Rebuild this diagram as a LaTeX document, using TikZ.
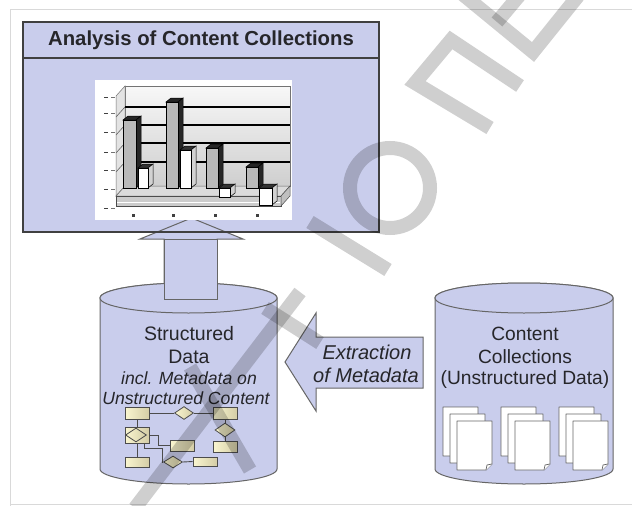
\documentclass[tikz,border=0pt]{standalone}
\usepackage{fontspec}
\setmainfont{Liberation Sans}
\usetikzlibrary{calc,shapes.geometric}

\definecolor{lav}{RGB}{201,205,236}
\definecolor{edge}{RGB}{64,64,64}
\definecolor{ink}{RGB}{38,38,42}
\definecolor{cream}{RGB}{250,246,208}
\definecolor{khaki}{RGB}{212,205,166}

\tikzset{
  frameline/.style={draw=black!15, line width=0.8pt},
  panel/.style={fill=lav, draw=edge, line width=1.3pt},
  tank/.style={fill=lav, draw=black!60, line width=1pt},
  blockarrow/.style={fill=lav, draw=black!60, line width=1pt, line join=miter},
  label/.style={text=ink, align=center, inner sep=0pt},
  erbox/.style={shape=rectangle, draw=black!70, line width=0.8pt,
    left color=cream, middle color=cream, right color=khaki,
    minimum width=24pt, minimum height=12pt, inner sep=0pt},
  erdia/.style={shape=diamond, draw=black!70, line width=0.8pt,
    left color=cream, middle color=cream, right color=khaki,
    minimum width=19pt, minimum height=13pt, inner sep=0pt},
  erlink/.style={draw=black!70, line width=0.9pt},
  docsheet/.style={fill=white, draw=black!60, line width=0.7pt, line join=round},
  wmark/.style={draw=black, draw opacity=0.19, line width=14pt, line cap=butt, line join=miter},
}

% one chart bar: x0, x1, top y, base y, front style, top style, side style
\newcommand\chartbar[7]{%
  \filldraw[#6, draw=black, line width=0.5pt] (#1,#3) -- (#1+5,#3-4) -- (#2+5,#3-4) -- (#2,#3) -- cycle;
  \filldraw[#7, draw=black, line width=0.5pt] (#2,#3) -- (#2+5,#3-4) -- (#2+5,#4-4) -- (#2,#4) -- cycle;
  \filldraw[#5, draw=black, line width=0.5pt] (#1,#3) rectangle (#2,#4);
}

% a stack of three sheets with a folded corner
\newcommand\sheetstack[2]{%
  \foreach \k in {0,1,2} {
    \draw[docsheet] (#1+7*\k,#2+7*\k) -- ++(35,0) -- ++(0,43) -- ++(-6,6) -- ++(-29,0) -- cycle;
    \draw[docsheet] (#1+7*\k+35,#2+7*\k+43) -- ++(-5,1) -- ++(-1,5);
  }
}

\begin{document}
\begin{tikzpicture}[x=1pt,y=-1pt]
\useasboundingbox (0,0) rectangle (632,506);
\fill[white] (0,0) rectangle (632,506);

% page frame
\draw[frameline] (10,506) -- (10,9) -- (632,9);
\draw[frameline] (10,504.5) -- (632,504.5);

% ---------- analysis panel ----------
\fill[lav] (23,22) rectangle (379,232);

% upward block arrow from the structured store to the panel
\draw[blockarrow] (164,296) -- (164,239) -- (140,239) -- (191.5,218) -- (243,239) -- (217,239) -- (217,296) -- cycle;

\draw[panel, fill=none] (23,22) rectangle (379,232);
\draw[edge, line width=1.2pt] (23,58) -- (379,58);
\node[label, font=\bfseries\fontsize{20.3}{24}\selectfont] (title) at (201,40) {Analysis of Content Collections};

% ---------- bar chart ----------
\fill[white] (95,80) rectangle (292,220);
\shade[top color=gray!6, bottom color=gray!38] (125,86) rectangle (290,186);
\draw[black!55, line width=0.5pt] (125,86) rectangle (290,186);
\filldraw[fill=gray!22, draw=black!55, line width=0.5pt] (116,96) -- (125,86) -- (125,186) -- (116,196) -- cycle;
\foreach \g in {107,125,143,162} {
  \draw[black, line width=1.1pt] (125,\g) -- (290,\g);
  \draw[black!60, line width=0.6pt] (116,\g+10) -- (125,\g);
}
% floor slab
\filldraw[fill=gray!28, draw=black!60, line width=0.5pt] (116,196) -- (125,186) -- (290,186) -- (281,196) -- cycle;
\filldraw[fill=gray!40, draw=black!70, line width=0.6pt] (116,196) rectangle (281,206);
\filldraw[fill=gray!50, draw=black!70, line width=0.5pt] (281,196) -- (290,186) -- (290,196) -- (281,206) -- cycle;
\draw[white, line width=0.6pt] (117,202) -- (280,202);

% bars
\chartbar{123}{136}{120}{188}{gray!55}{black!85}{black!85}
\chartbar{138}{148}{168}{188}{white}{black!80}{gray!35}
\chartbar{166}{178}{102}{188}{gray!55}{black!85}{black!85}
\chartbar{180}{191}{150}{188}{white}{black!80}{gray!35}
\chartbar{206}{218}{148}{188}{gray!55}{black!85}{black!85}
\chartbar{219}{230}{188}{197}{white}{black!80}{gray!35}
\chartbar{246}{258}{167}{188}{gray!55}{black!85}{black!85}
\chartbar{259}{272}{188}{205}{white}{black!80}{gray!35}

% axis ticks and tiny labels
\foreach \t in {97,113,132,152,170,189,208} {
  \draw[black!75, line width=0.9pt] (104,\t) -- (108,\t);
  \draw[black!55, line width=0.6pt] (111,\t) -- (115,\t);
}
\foreach \t in {133,173,215,257}
  \fill[black!75] (\t-1.5,214) rectangle (\t+1.5,216.5);

% ---------- structured data store ----------
\filldraw[tank] (100,298) -- (100,469) arc[start angle=180, end angle=360, x radius=88.5pt, y radius=15pt]
  -- (277,298) arc[start angle=0, end angle=180, x radius=88.5pt, y radius=15pt] -- cycle;
\filldraw[tank] (188.5,298) ellipse[x radius=88.5pt, y radius=15pt];
\draw[blockarrow] (164,299) -- (164,239) -- (217,239) -- (217,299) -- cycle;

\node[label, font=\fontsize{19.5}{22}\selectfont] (sd1) at (189,334) {Structured};
\node[label, font=\fontsize{19.5}{22}\selectfont] (sd2) at (189,357) {Data};
\node[label, font=\itshape\fontsize{17.6}{20}\selectfont] (sd3) at (189,378) {incl. Metadata on};
\node[label, font=\itshape\fontsize{17.6}{20}\selectfont] (sd4) at (186,398) {Unstructured Content};

% entity-relationship sketch
\node[erbox] (r1) at (137,413) {};
\node[erdia] (d1) at (184,413) {};
\node[erbox] (r2) at (225,413) {};
\node[erdia, minimum width=20pt, minimum height=14pt] (d2) at (225,430) {};
\node[erbox, minimum height=11pt] (r4) at (225,446.5) {};
\node[erbox, minimum height=16pt] (r3) at (137,435) {};
\node[erdia, minimum width=21pt, minimum height=14pt] (d4) at (136,435) {};
\node[erbox, minimum height=11pt] (r6) at (182,445.5) {};
\node[erbox, minimum height=10pt] (r5) at (137,462) {};
\node[erdia, minimum height=12pt] (d3) at (173,462) {};
\node[erbox, minimum height=9pt] (r7) at (205,461.5) {};

\draw[erlink] (r1.east) -- (d1.west);
\draw[erlink] (d1.east) -- (r2.west);
\draw[erlink] (r2.south) -- (d2.north);
\draw[erlink] (d2.south) -- (r4.north);
\draw[erlink] (r1.south) -- (r3.north);
\draw[erlink] (r3.south) -- (r5.north);
\draw[erlink] (r3.east) -- ++(9,0) |- (r6.west);
\draw[erlink] ($(r3.south)+(7,0)$) |- (162,448) |- (d3.west);
\draw[erlink] (d3.east) -- (r7.west);

% ---------- content collections store ----------
\filldraw[tank] (435,298) -- (435,469) arc[start angle=180, end angle=360, x radius=89pt, y radius=15pt]
  -- (613,298) arc[start angle=0, end angle=180, x radius=89pt, y radius=15pt] -- cycle;
\filldraw[tank] (524,298) ellipse[x radius=89pt, y radius=15pt];

\node[label, font=\fontsize{19.2}{22}\selectfont] (cc1) at (525,334) {Content};
\node[label, font=\fontsize{19.2}{22}\selectfont] (cc2) at (525,357) {Collections};
\node[label, font=\fontsize{19.2}{22}\selectfont] (cc3) at (525,380) {(Unstructured Data)};

\sheetstack{443}{407}
\sheetstack{501}{407}
\sheetstack{559}{407}

% ---------- extraction arrow ----------
\draw[blockarrow] (423,337) -- (316,337) -- (316,313) -- (285,362) -- (316,411) -- (316,388) -- (423,388) -- cycle;
\node[label, font=\itshape\fontsize{20}{23}\selectfont] (ex1) at (367,352) {Extraction};
\node[label, font=\itshape\fontsize{20}{23}\selectfont] (ex2) at (366,375) {of Metadata};

% ---------- diagonal stamp ----------
\draw[wmark] (578,-4) -- (533,52) -- (455,-12);
\draw[wmark] (497,22) -- (523,-9);
\draw[wmark] (490,128) -- (415,83) -- (451,40) -- (520,86);
\draw[wmark] (390,188) circle[radius=40pt];
\draw[wmark] (310,222) -- (388,270);
\draw[wmark] (135,508) -- (300,292);
\draw[wmark] (265,308) -- (320,343);
\draw[wmark] (190,367) -- (250,470);
\end{tikzpicture}
\end{document}
